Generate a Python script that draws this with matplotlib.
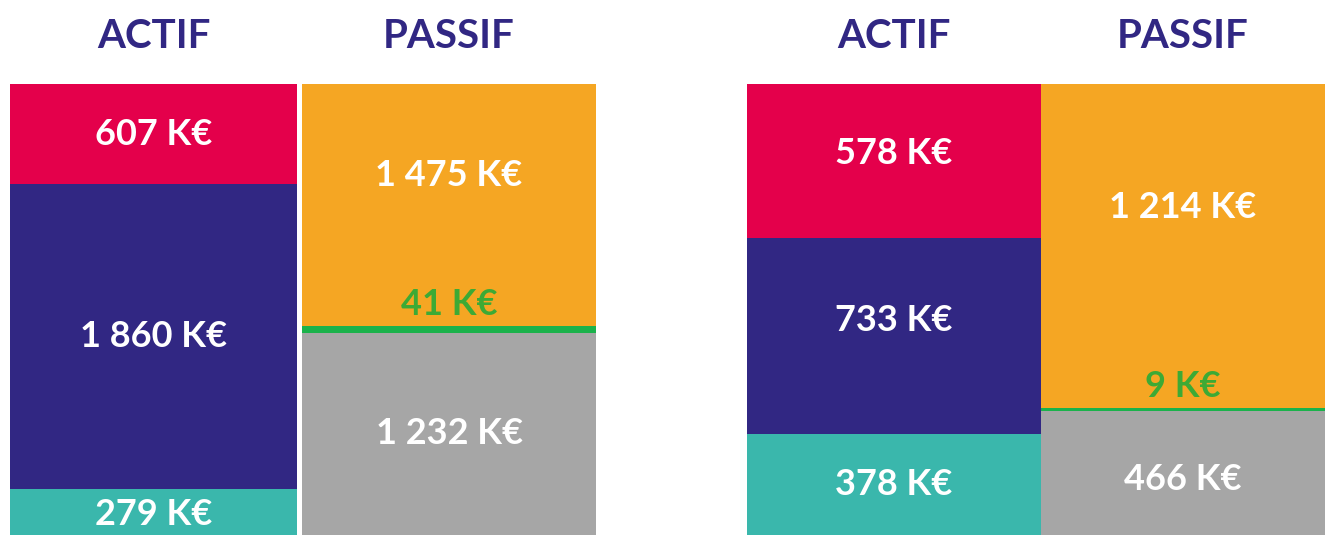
import matplotlib.pyplot as plt

plt.rcParams['font.family'] = ['Lato', 'DejaVu Sans']

# balance sheet figures, in K€ (bottom to top)
actif_items = ['Trésorerie', 'Actif immobilisé', 'Actif circulant']
actif_n1 = [279, 1860, 607]
actif_n2 = [378, 733, 578]

passif_items = ['Dettes', 'Provisions', 'Capitaux propres']
passif_n1 = [1232, 41, 1475]
passif_n2 = [466, 9, 1214]

titles = ['ACTIF', 'PASSIF']

NAVY = '#312783'
actif_colors = ['#3AB7AC', NAVY, '#E4004B']
passif_colors = ['#A6A6A6', '#1BB24B', '#F5A623']
GREEN_TXT = '#3DAA35'


def fmt(v):
    return '{:,}'.format(v).replace(',', ' ') + ' K€'


fig = plt.figure(figsize=(13.25, 5.35), dpi=100)
W, H = 1325, 535
top_px = 84
LABEL_SIZE = 26


def panel(x0, x1, actif, passif, label_pos):
    total = max(sum(actif), sum(passif))
    ax = fig.add_axes([0, 0, 1, (H - top_px) / H])
    ax.set_xlim(0, W)
    ax.set_ylim(0, total)
    ax.axis('off')

    # actif column
    bottom = 0
    for i, (v, c) in enumerate(zip(actif, actif_colors)):
        ax.bar(x0[0], v, width=x0[1] - x0[0], bottom=bottom, color=c, align='edge')
        y = bottom + v * label_pos['actif'][i]
        ax.text((x0[0] + x0[1]) / 2, y, fmt(v), ha='center', va='center',
                color='white', fontsize=LABEL_SIZE, fontweight='bold')
        bottom += v

    # passif column, the thin middle item gets its label above the line
    bottom = 0
    for i, (v, c) in enumerate(zip(passif, passif_colors)):
        ax.bar(x1[0], v, width=x1[1] - x1[0], bottom=bottom, color=c, align='edge')
        if i == 1:
            ax.annotate(fmt(v), ((x1[0] + x1[1]) / 2, bottom + v), xytext=(0, 4),
                        textcoords='offset points', ha='center', va='bottom',
                        color=GREEN_TXT, fontsize=LABEL_SIZE, fontweight='bold')
        else:
            y = bottom + v * label_pos['passif'][i]
            ax.text((x1[0] + x1[1]) / 2, y, fmt(v), ha='center', va='center',
                    color='white', fontsize=LABEL_SIZE, fontweight='bold')
        bottom += v

    for (a, b), t in zip([x0, x1], titles):
        fig.text((a + b) / 2 / W, 1 - 36 / H, t, ha='center', va='center',
                 color=NAVY, fontsize=29, fontweight='bold')


panel((10, 297), (302, 596), actif_n1, passif_n1,
      {'actif': [0.45, 0.5, 0.5], 'passif': [0.5, 0.5, 0.62]})
panel((747, 1041), (1041, 1325), actif_n2, passif_n2,
      {'actif': [0.5, 0.58, 0.55], 'passif': [0.45, 0.5, 0.62]})

fig.savefig('out.png', dpi=100)
